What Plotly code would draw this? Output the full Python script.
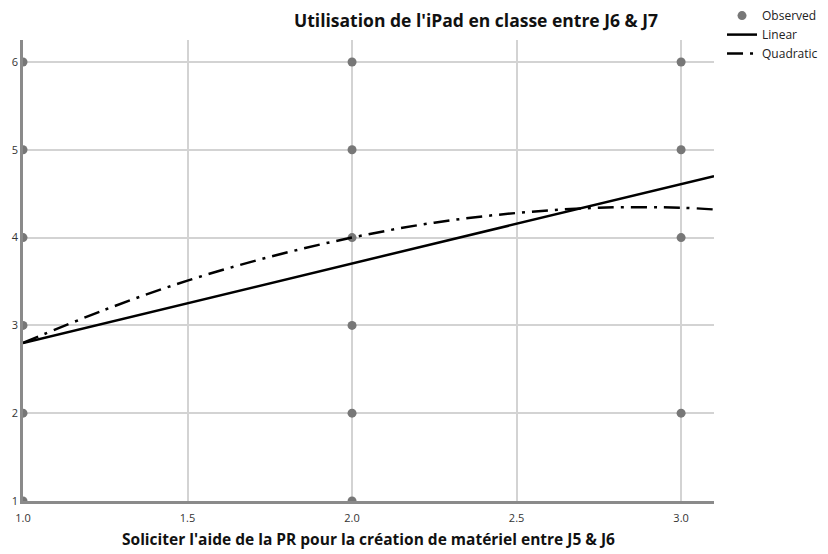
import plotly.graph_objects as go

# Observed points
obs_x = [1, 1, 1, 1, 1, 1, 2, 2, 2, 2, 2, 2, 3, 3, 3, 3]
obs_y = [1, 2, 3, 4, 5, 6, 1, 2, 3, 4, 5, 6, 2, 4, 5, 6]

# Linear fit
lin_x = [1.0, 3.1]
lin_y = [2.80, 4.70]

# Quadratic fit
quad_x = [1.0, 1.25, 1.5, 1.75, 2.0, 2.25, 2.5, 2.75, 3.0, 3.1]
quad_y = [2.80, 3.18, 3.51, 3.78, 4.00, 4.17, 4.28, 4.34, 4.34, 4.32]

x_ticks = [1.0, 1.5, 2.0, 2.5, 3.0]
y_ticks = [1, 2, 3, 4, 5, 6]

title_y = "Utilisation de l'iPad en classe entre J6 & J7"
title_x = "Soliciter l'aide de la PR pour la création de matériel entre J5 & J6"

FONT = "Open Sans"

fig = go.Figure()
fig.add_trace(go.Scatter(x=obs_x, y=obs_y, mode="markers", name="Observed",
                         marker=dict(color="#777777", size=9), cliponaxis=True))
fig.add_trace(go.Scatter(x=lin_x, y=lin_y, mode="lines", name="Linear",
                         line=dict(color="black", width=2.5)))
fig.add_trace(go.Scatter(x=quad_x, y=quad_y, mode="lines", name="Quadratic",
                         line=dict(color="black", width=2.5, shape="spline",
                                   dash="16px,7px,3px,7px")))

fig.update_layout(
    width=828, height=554,
    margin=dict(l=23, r=114, t=40, b=53, autoexpand=False),
    paper_bgcolor="white", plot_bgcolor="white",
    font=dict(family=FONT, size=11, color="#222222"),
    showlegend=True,
    legend=dict(xref="container", yref="container",
                x=0.872, xanchor="left", y=0.998, yanchor="top",
                font=dict(size=12, family=FONT, color="#222222"),
                itemwidth=30, tracegroupgap=0, borderwidth=0,
                bgcolor="rgba(0,0,0,0)"),
    annotations=[
        dict(text="<b>" + title_y + "</b>", xref="paper", yref="paper",
             x=0.655, y=1.0, xanchor="center", yanchor="bottom", yshift=6,
             showarrow=False, font=dict(size=17.5, family=FONT, color="#111111")),
        dict(text="<b>" + title_x + "</b>", xref="paper", yref="paper",
             x=0.5, y=0, xanchor="center", yanchor="top", yshift=-25,
             showarrow=False, font=dict(size=15.5, family=FONT, color="#111111")),
    ],
)
fig.update_xaxes(range=[1.0, 3.1], tickvals=x_ticks, ticktext=[f"{v:.1f}" for v in x_ticks],
                 showgrid=True, gridcolor="#d3d3d3", gridwidth=1.5,
                 showline=True, linecolor="#8a8a8a", linewidth=2.5,
                 zeroline=False, ticks="", ticklabelstandoff=5,
                 tickfont=dict(size=11, color="#333333"))
fig.update_yaxes(range=[1.0, 6.25], tickvals=y_ticks,
                 showgrid=True, gridcolor="#d3d3d3", gridwidth=1.5,
                 showline=True, linecolor="#8a8a8a", linewidth=2.5,
                 zeroline=False, ticks="", tickfont=dict(size=11, color="#333333"))

fig.write_html("out.html")
